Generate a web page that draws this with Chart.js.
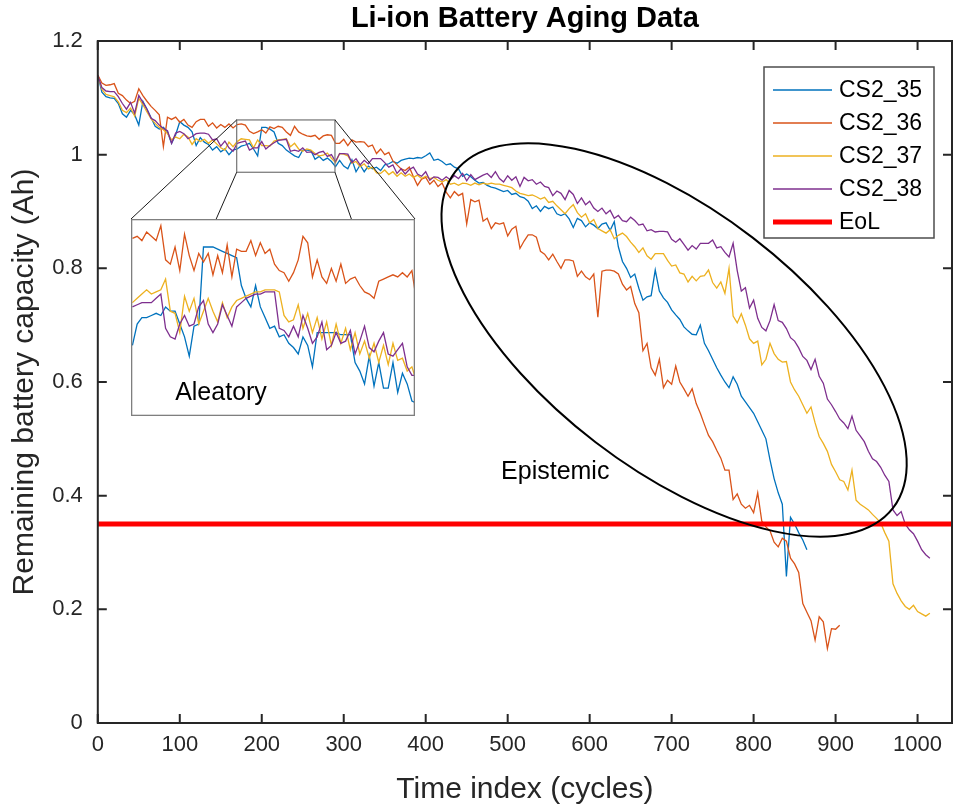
<!DOCTYPE html>
<html>
<head>
<meta charset="utf-8">
<title>Li-ion Battery Aging Data</title>
<script src="https://cdn.jsdelivr.net/npm/chart.js@4.4.1/dist/chart.umd.min.js"></script>
<style>
  html, body { margin: 0; padding: 0; background: #fff; }
  #wrap { position: relative; width: 953px; height: 812px; overflow: hidden; }
  #mainChart { position: absolute; left: 0; top: 0; }
  #insetChart { position: absolute; left: 131px; top: 219px; }
</style>
</head>
<body>
<div id="wrap">
  <canvas id="mainChart" width="953" height="812"></canvas>
  <canvas id="insetChart" width="284" height="197"></canvas>
</div>
<script>
// Capacity readings, one value every 5 cycles starting at cycle 0
const seriesNames = ['CS2_35', 'CS2_36', 'CS2_37', 'CS2_38'];
const seriesColors = ['#0072BD', '#D95319', '#EDB120', '#7E2F8E'];
const cycleStep = 5;

const cs35 = [
  1.140, 1.110, 1.102, 1.100, 1.099, 1.090, 1.072, 1.066, 1.078, 1.070,
  1.052, 1.094, 1.080, 1.065, 1.050, 1.045, 1.048, 1.040, 1.020, 1.035,
  1.058, 1.052, 1.048, 1.040, 1.016, 1.030, 1.022, 1.018, 1.008, 1.014,
  1.005, 1.010, 1.000, 1.008, 1.010, 1.015, 1.017, 1.020, 1.010, 0.998,
  1.048, 1.048, 1.045, 1.040, 1.020, 1.016, 1.008, 1.003, 0.998, 0.995,
  1.008, 1.008, 1.007, 0.992, 0.997, 0.990, 0.994, 0.988, 0.979, 0.990,
  0.980, 0.975, 0.991, 0.970, 0.982, 0.970, 0.980, 0.975, 0.978, 0.972,
  0.982, 0.984, 0.988, 0.985, 0.990, 0.992, 0.994, 0.993, 0.995, 0.994,
  0.998, 1.003, 0.990, 0.992, 0.988, 0.982, 0.984, 0.978, 0.975, 0.962,
  0.966, 0.961, 0.955, 0.950, 0.951, 0.946, 0.943, 0.941, 0.938, 0.935,
  0.937, 0.930, 0.932, 0.926, 0.924, 0.918, 0.905, 0.910, 0.900, 0.909,
  0.905, 0.908, 0.896, 0.893, 0.896, 0.887, 0.872, 0.888, 0.884, 0.873,
  0.880, 0.876, 0.870, 0.878, 0.880, 0.867, 0.882, 0.838, 0.812, 0.800,
  0.784, 0.790, 0.765, 0.744, 0.750, 0.752, 0.797, 0.760, 0.748, 0.740,
  0.727, 0.718, 0.710, 0.697, 0.690, 0.684, 0.683, 0.700, 0.668, 0.655,
  0.640, 0.625, 0.612, 0.600, 0.590, 0.609, 0.596, 0.575, 0.565, 0.555,
  0.545, 0.530, 0.515, 0.500, 0.463, 0.430, 0.405, 0.385, 0.258, 0.362,
  0.350, 0.335, 0.322, 0.305
];
const cs36 = [
  1.140, 1.126, 1.122, 1.123, 1.125, 1.108, 1.104, 1.096, 1.090, 1.094,
  1.116, 1.104, 1.094, 1.085, 1.078, 1.070, 1.014, 1.066, 1.062, 1.066,
  1.057, 1.062, 1.052, 1.048, 1.058, 1.062, 1.062, 1.050, 1.056, 1.047,
  1.053, 1.048, 1.054, 1.047, 1.053, 1.054, 1.052, 1.041, 1.037, 1.040,
  1.044, 1.038, 1.049, 1.046, 1.050, 1.048, 1.040, 1.034, 1.050, 1.040,
  1.036, 1.033, 1.032, 1.034, 1.027, 1.033, 1.035, 1.034, 1.020, 1.020,
  1.027, 1.016, 1.026, 1.022, 1.023, 1.022, 1.014, 1.017, 1.002, 1.010,
  1.000, 1.004, 0.989, 0.982, 0.975, 0.972, 0.978, 0.961, 0.946, 0.957,
  0.960, 0.948, 0.955, 0.944, 0.950, 0.934, 0.924, 0.935, 0.928, 0.932,
  0.878, 0.921, 0.917, 0.920, 0.883, 0.888, 0.870, 0.880, 0.878, 0.880,
  0.857, 0.869, 0.874, 0.835, 0.848, 0.859, 0.859, 0.855, 0.830, 0.825,
  0.815, 0.825, 0.812, 0.800, 0.815, 0.815, 0.813, 0.786, 0.795, 0.785,
  0.780, 0.790, 0.714, 0.795, 0.797, 0.797, 0.795, 0.790, 0.772, 0.762,
  0.768, 0.738, 0.722, 0.655, 0.668, 0.625, 0.612, 0.640, 0.590, 0.603,
  0.596, 0.628, 0.600, 0.588, 0.575, 0.588, 0.562, 0.545, 0.525, 0.506,
  0.495, 0.480, 0.466, 0.445, 0.445, 0.393, 0.403, 0.385, 0.378, 0.383,
  0.370, 0.405, 0.355, 0.345, 0.338, 0.318, 0.310, 0.325, 0.320, 0.290,
  0.280, 0.265, 0.210, 0.195, 0.180, 0.146, 0.187, 0.178, 0.131, 0.166,
  0.165, 0.172
];
const cs37 = [
  1.140, 1.115, 1.106, 1.104, 1.102, 1.093, 1.078, 1.074, 1.082, 1.068,
  1.099, 1.088, 1.075, 1.063, 1.055, 1.048, 1.044, 1.037, 1.026, 1.031,
  1.028, 1.036, 1.031, 1.018, 1.028, 1.023, 1.027, 1.020, 1.026, 1.019,
  1.012, 1.008, 1.022, 1.014, 1.023, 1.028, 1.027, 1.026, 1.012, 1.026,
  1.016, 1.016, 1.015, 1.024, 1.026, 1.027, 1.028, 1.014, 1.020, 1.010,
  1.006, 1.010, 1.008, 1.002, 0.998, 0.999, 1.003, 0.994, 0.986, 1.002,
  1.001, 0.998, 0.985, 0.988, 0.979, 0.984, 0.975, 0.978, 0.968, 0.967,
  0.973, 0.965, 0.970, 0.962, 0.968, 0.962, 0.966, 0.960, 0.964, 0.958,
  0.962, 0.958, 0.960, 0.955, 0.952, 0.956, 0.948, 0.950, 0.946, 0.950,
  0.949, 0.946, 0.950, 0.947, 0.950, 0.948, 0.950, 0.948, 0.948, 0.946,
  0.944, 0.942, 0.936, 0.932, 0.930, 0.928, 0.929, 0.926, 0.922, 0.925,
  0.916, 0.918, 0.910, 0.903, 0.896, 0.905, 0.912, 0.898, 0.890, 0.896,
  0.880, 0.886, 0.870, 0.866, 0.862, 0.868, 0.852, 0.858, 0.862, 0.856,
  0.846, 0.838, 0.828, 0.836, 0.822, 0.816, 0.826, 0.826, 0.826, 0.814,
  0.804, 0.806, 0.792, 0.790, 0.776, 0.786, 0.778, 0.786, 0.787, 0.797,
  0.775, 0.765, 0.776, 0.756, 0.800, 0.716, 0.704, 0.720, 0.700, 0.676,
  0.668, 0.672, 0.630, 0.640, 0.668, 0.650, 0.640, 0.635, 0.636, 0.600,
  0.586, 0.575, 0.560, 0.545, 0.556, 0.528, 0.504, 0.492, 0.478, 0.455,
  0.442, 0.428, 0.425, 0.410, 0.445, 0.392, 0.385, 0.380, 0.375, 0.367,
  0.360, 0.352, 0.335, 0.320, 0.245, 0.228, 0.215, 0.205, 0.200, 0.207,
  0.196, 0.192, 0.188, 0.193
];
const cs38 = [
  1.140, 1.118, 1.112, 1.111, 1.111, 1.102, 1.090, 1.080, 1.092, 1.073,
  1.104, 1.092, 1.080, 1.064, 1.060, 1.052, 1.046, 1.042, 1.020, 1.038,
  1.041, 1.037, 1.028, 1.032, 1.037, 1.038, 1.038, 1.036, 1.026, 1.028,
  1.015, 1.024, 1.012, 1.006, 1.020, 1.022, 1.024, 1.008, 1.012, 1.012,
  1.023, 1.010, 1.016, 1.021, 1.025, 1.026, 1.027, 1.006, 1.008, 1.006,
  1.012, 1.004, 1.005, 1.000, 1.004, 1.006, 0.997, 1.000, 0.988, 1.002,
  1.002, 1.001, 0.986, 0.993, 0.982, 0.990, 0.984, 0.993, 0.993, 0.993,
  0.986, 0.978, 0.982, 0.967, 0.975, 0.966, 0.974, 0.978, 0.966, 0.962,
  0.970, 0.955, 0.961, 0.960, 0.955, 0.961, 0.956, 0.963, 0.958, 0.967,
  0.954, 0.965, 0.956, 0.960, 0.964, 0.967, 0.960, 0.970, 0.958, 0.952,
  0.963, 0.955, 0.961, 0.944, 0.960, 0.954, 0.956, 0.948, 0.952, 0.944,
  0.942, 0.928, 0.936, 0.932, 0.921, 0.937, 0.930, 0.914, 0.924, 0.912,
  0.918, 0.906, 0.900, 0.906, 0.896, 0.902, 0.888, 0.893, 0.884, 0.882,
  0.890, 0.884, 0.876, 0.878, 0.866, 0.868, 0.864, 0.865, 0.865, 0.864,
  0.851, 0.846, 0.852, 0.842, 0.832, 0.840, 0.834, 0.844, 0.844, 0.844,
  0.850, 0.836, 0.838, 0.828, 0.820, 0.844, 0.796, 0.760, 0.766, 0.730,
  0.744, 0.712, 0.696, 0.690, 0.708, 0.736, 0.708, 0.705, 0.694, 0.678,
  0.672, 0.660, 0.645, 0.638, 0.622, 0.640, 0.610, 0.598, 0.570, 0.560,
  0.548, 0.535, 0.528, 0.518, 0.540, 0.515, 0.505, 0.495, 0.478, 0.465,
  0.460, 0.450, 0.436, 0.425, 0.375, 0.365, 0.372, 0.350, 0.340, 0.333,
  0.320, 0.305, 0.296, 0.290
];

// Finer readings for the zoomed inset: one value every 2 cycles, cycles 170..290
const insetStart = 170;
const insetStep = 2;
const inset35 = [
  1.002, 1.012, 1.015, 1.015, 1.016, 1.017, 1.016, 1.020, 1.018, 1.018,
  1.012, 1.006, 0.997, 1.011, 1.012, 1.048, 1.048, 1.048, 1.047, 1.046,
  1.045, 1.044, 1.043, 1.030, 1.024, 1.020, 1.030, 1.020, 1.015, 1.010,
  1.011, 1.006, 1.007, 1.003, 1.001, 0.998, 1.006, 1.002, 0.992, 1.008,
  1.008, 1.008, 1.008, 1.008, 1.007, 1.007, 1.007, 0.994, 0.990, 0.984,
  0.997, 0.983, 0.994, 0.982, 0.982, 0.994, 0.980, 0.989, 0.984, 0.976,
  0.975
];
const inset36 = [
  1.052, 1.053, 1.051, 1.055, 1.053, 1.051, 1.058, 1.042, 1.040, 1.048,
  1.037, 1.054, 1.044, 1.037, 1.045, 1.041, 1.045, 1.035, 1.044, 1.036,
  1.049, 1.034, 1.047, 1.046, 1.046, 1.051, 1.044, 1.050, 1.045, 1.047,
  1.040, 1.037, 1.036, 1.032, 1.036, 1.042, 1.053, 1.050, 1.034, 1.042,
  1.034, 1.031, 1.038, 1.032, 1.040, 1.031, 1.033, 1.034, 1.030, 1.027,
  1.026, 1.024, 1.032, 1.033, 1.034, 1.035, 1.034, 1.036, 1.034, 1.037,
  1.022
];
const inset37 = [
  1.022, 1.024, 1.026, 1.028, 1.026, 1.027, 1.028, 1.033, 1.018, 1.017,
  1.008, 1.025, 1.018, 1.024, 1.012, 1.018, 1.024, 1.018, 1.013, 1.022,
  1.015, 1.020, 1.023, 1.024, 1.025, 1.026, 1.027, 1.027, 1.028, 1.028,
  1.028, 1.027, 1.016, 1.013, 1.014, 1.021, 1.010, 1.017, 1.008, 1.015,
  1.005, 1.013, 1.002, 1.012, 1.003, 1.010, 1.000, 1.008, 0.998, 1.004,
  0.996, 1.003, 0.994, 1.002, 0.993, 1.003, 0.995, 0.996, 0.990, 0.992,
  0.985
];
const inset38 = [
  1.020, 1.021, 1.022, 1.022, 1.022, 1.024, 1.026, 1.010, 1.006, 1.005,
  1.012, 1.016, 1.011, 1.012, 1.020, 1.023, 1.012, 1.008, 1.012, 1.021,
  1.016, 1.011, 1.020, 1.022, 1.024, 1.025, 1.026, 1.026, 1.027, 1.027,
  1.027, 1.010, 1.009, 1.006, 1.011, 1.006, 1.016, 1.010, 1.003, 1.006,
  1.013, 1.000, 1.002, 1.008, 1.003, 1.004, 1.009, 0.998, 1.004, 1.011,
  1.001, 0.999, 1.004, 1.008, 0.998, 0.997, 1.000, 1.003, 0.992, 0.988,
  0.988
];

const eolLevel = 0.35;
const xMin = 0, xMax = 1042;
const yMin = 0, yMax = 1.2;
const zoomX = [169.4, 289.3];   // data window shown in the inset
const zoomY = [0.969, 1.0611];

// layout / style
const fontFamily = "'Liberation Sans', Arial, Helvetica, sans-serif";
const axisColor = '#262626';
const tickLen = 9;
const insetBox = { left: 131, top: 219, width: 284, height: 197 };
const connectorEnds = [0, 0.30, 0.776, 1];
const ellipse = { x: 703, y: 0.674, a: 276, b: 129, rot: 37.5 };
const epistemicAt = { x: 558, y: 0.441 };

Chart.defaults.font.family = fontFamily;

function toPoints(values, start, step) {
  return values.map((v, i) => ({ x: start + i * step, y: v }));
}

function makeSets(lists, start, step, width) {
  return lists.map((arr, k) => ({
    label: seriesNames[k],
    data: toPoints(arr, start, step),
    borderColor: seriesColors[k],
    backgroundColor: seriesColors[k],
    borderWidth: width,
    pointRadius: 0,
    tension: 0,
    order: lists.length - k
  }));
}

const mainSets = makeSets([cs35, cs36, cs37, cs38], 0, cycleStep, 1.3);
mainSets.push({
  label: 'EoL',
  data: [{ x: xMin, y: eolLevel }, { x: xMax, y: eolLevel }],
  borderColor: '#FF0000',
  backgroundColor: '#FF0000',
  borderWidth: 5,
  pointRadius: 0,
  order: 0
});

const axesFrame = {
  id: 'axesFrame',
  afterDatasetsDraw(chart) {
    const { ctx, chartArea: a, scales: { x, y } } = chart;
    ctx.save();
    ctx.strokeStyle = axisColor;
    ctx.lineWidth = 2;
    ctx.strokeRect(a.left, a.top, a.right - a.left, a.bottom - a.top);
    ctx.beginPath();
    x.ticks.forEach(t => {
      const px = x.getPixelForValue(t.value);
      ctx.moveTo(px, a.bottom); ctx.lineTo(px, a.bottom - tickLen);
      ctx.moveTo(px, a.top); ctx.lineTo(px, a.top + tickLen);
    });
    y.ticks.forEach(t => {
      const py = y.getPixelForValue(t.value);
      ctx.moveTo(a.left, py); ctx.lineTo(a.left + tickLen, py);
      ctx.moveTo(a.right, py); ctx.lineTo(a.right - tickLen, py);
    });
    ctx.stroke();
    ctx.restore();
  }
};

const annotations = {
  id: 'annotations',
  afterDraw(chart) {
    const { ctx, chartArea: a, scales: { x, y } } = chart;
    ctx.save();

    // zoom window
    const rx0 = x.getPixelForValue(zoomX[0]), rx1 = x.getPixelForValue(zoomX[1]);
    const ry0 = y.getPixelForValue(zoomY[1]), ry1 = y.getPixelForValue(zoomY[0]);
    ctx.strokeStyle = '#7f7f7f';
    ctx.lineWidth = 1.3;
    ctx.strokeRect(rx0, ry0, rx1 - rx0, ry1 - ry0);

    // connectors to the inset
    const from = [[rx0, ry0], [rx0, ry1], [rx1, ry1], [rx1, ry0]];
    ctx.strokeStyle = '#1a1a1a';
    ctx.lineWidth = 1;
    ctx.beginPath();
    from.forEach((p, i) => {
      ctx.moveTo(p[0], p[1]);
      ctx.lineTo(insetBox.left + connectorEnds[i] * insetBox.width, insetBox.top);
    });
    ctx.stroke();

    // epistemic ellipse
    ctx.strokeStyle = '#000';
    ctx.lineWidth = 2;
    ctx.beginPath();
    ctx.ellipse(x.getPixelForValue(ellipse.x), y.getPixelForValue(ellipse.y),
      ellipse.a, ellipse.b, ellipse.rot * Math.PI / 180, 0, Math.PI * 2);
    ctx.stroke();

    ctx.fillStyle = '#000';
    ctx.font = '25px ' + fontFamily;
    ctx.textAlign = 'center';
    ctx.textBaseline = 'middle';
    ctx.fillText('Epistemic', x.getPixelForValue(epistemicAt.x), y.getPixelForValue(epistemicAt.y));

    // legend
    const lw = 170, lh = 171;
    const lx = a.right - 18 - lw, ly = a.top + 26;
    ctx.fillStyle = '#fff';
    ctx.fillRect(lx, ly, lw, lh);
    ctx.strokeStyle = '#4d4d4d';
    ctx.lineWidth = 1.5;
    ctx.strokeRect(lx, ly, lw, lh);
    ctx.font = '23px ' + fontFamily;
    ctx.textAlign = 'left';
    chart.data.datasets.forEach((ds, i) => {
      const rowY = ly + 23 + i * 33;
      ctx.strokeStyle = ds.borderColor;
      ctx.lineWidth = ds.borderWidth;
      ctx.beginPath();
      ctx.moveTo(lx + 9, rowY);
      ctx.lineTo(lx + 68, rowY);
      ctx.stroke();
      ctx.fillStyle = '#000';
      ctx.fillText(ds.label, lx + 75, rowY + 1);
    });
    ctx.restore();
  }
};

new Chart(document.getElementById('mainChart'), {
  type: 'line',
  data: { datasets: mainSets },
  options: {
    responsive: false,
    animation: false,
    events: [],
    layout: { padding: { left: 0, right: 1, top: 0, bottom: 0 } },
    plugins: {
      legend: { display: false },
      tooltip: { enabled: false },
      title: {
        display: true,
        text: 'Li-ion Battery Aging Data',
        color: '#000',
        fullSize: false,
        font: { size: 29, weight: 'bold' },
        padding: { top: 2, bottom: 4.2 }
      }
    },
    scales: {
      x: {
        type: 'linear',
        min: xMin,
        max: xMax,
        border: { display: false },
        grid: { display: false, drawTicks: false },
        ticks: {
          stepSize: 100,
          includeBounds: false,
          autoSkip: false,
          maxRotation: 0,
          padding: 9,
          color: axisColor,
          font: { size: 22 },
          callback: v => String(v)
        },
        title: {
          display: true,
          text: 'Time index (cycles)',
          color: axisColor,
          font: { size: 30 },
          padding: { top: 0, bottom: 4 }
        },
        afterFit: s => { s.height = 89; }
      },
      y: {
        type: 'linear',
        min: yMin,
        max: yMax,
        border: { display: false },
        grid: { display: false, drawTicks: false },
        ticks: {
          stepSize: 0.2,
          padding: 15,
          color: axisColor,
          font: { size: 22 },
          callback: v => String(Math.round(v * 10) / 10)
        },
        title: {
          display: true,
          text: 'Remaining battery capacity (Ah)',
          color: axisColor,
          font: { size: 30 },
          padding: { top: 7, bottom: 0 }
        },
        afterFit: s => { s.width = 97.8; }
      }
    }
  },
  plugins: [axesFrame, annotations]
});

const insetFrame = {
  id: 'insetFrame',
  afterDraw(chart) {
    const { ctx, width, height } = chart;
    ctx.save();
    ctx.strokeStyle = '#7f7f7f';
    ctx.lineWidth = 1.3;
    ctx.strokeRect(0.65, 0.65, width - 1.3, height - 1.3);
    ctx.fillStyle = '#000';
    ctx.font = '25px ' + fontFamily;
    ctx.textAlign = 'center';
    ctx.textBaseline = 'middle';
    ctx.fillText('Aleatory', 90, 174);
    ctx.restore();
  }
};

new Chart(document.getElementById('insetChart'), {
  type: 'line',
  data: { datasets: makeSets([inset35, inset36, inset37, inset38], insetStart, insetStep, 1.3) },
  options: {
    responsive: false,
    animation: false,
    events: [],
    layout: { padding: 0 },
    plugins: { legend: { display: false }, tooltip: { enabled: false }, title: { display: false } },
    scales: {
      x: { type: 'linear', display: false, min: zoomX[0], max: zoomX[1] },
      y: { type: 'linear', display: false, min: zoomY[0], max: zoomY[1] }
    }
  },
  plugins: [insetFrame]
});
</script>
</body>
</html>
